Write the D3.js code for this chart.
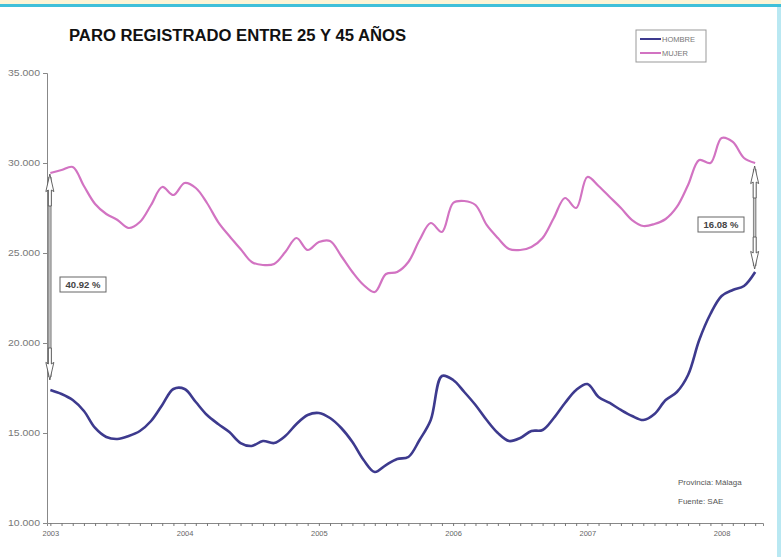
<!DOCTYPE html>
<html lang="es">
  <head>
    <meta charset="UTF-8" />
    <title>Paro registrado entre 25 y 45 años</title>
    <style>
      body { margin: 0; background: #fff; }
      #viz { width: 781px; height: 557px; }
      text { font-family: "Liberation Sans", Arial, sans-serif; }
    </style>
  </head>
  <body>
    <div id="viz"></div>
    <script src="https://cdnjs.cloudflare.com/ajax/libs/d3/7.8.5/d3.min.js"></script>
    <script>
      // monthly values, Jan 2003 .. Apr 2008
      const years = ["2003", "2004", "2005", "2006", "2007", "2008"];
      const yTicks = [10000, 15000, 20000, 25000, 30000, 35000];

      const hombre = [
        17389, 17167, 16833, 16222, 15278, 14778, 14667, 14833, 15111, 15667, 16556, 17444,
        17444, 16722, 16000, 15500, 15056, 14444, 14278, 14556, 14444, 14833, 15500, 16000,
        16111, 15833, 15278, 14500, 13500, 12833, 13222, 13556, 13667, 14611, 15722, 18167,
        17944, 17278, 16556, 15722, 15000, 14556, 14722, 15111, 15167, 15833, 16667, 17389,
        17722, 17000, 16667, 16278, 15944, 15722, 16056, 16833, 17278, 18222, 20167, 21611,
        22611, 22944, 23167, 23944
      ];
      const mujer = [
        29444, 29611, 29778, 28722, 27722, 27167, 26833, 26389, 26722, 27667, 28667, 28222,
        28889, 28611, 27778, 26722, 25944, 25222, 24500, 24333, 24389, 25056, 25833, 25167,
        25611, 25667, 24833, 23944, 23222, 22833, 23833, 23944, 24500, 25722, 26667, 26167,
        27778, 27889, 27667, 26556, 25833, 25222, 25167, 25333, 25833, 26944, 28056, 27500,
        29222, 28722, 28111, 27500, 26833, 26500, 26611, 26889, 27556, 28778, 30167, 30000,
        31389, 31167, 30278, 30000
      ];
      const seriesNames = ["HOMBRE", "MUJER"];
      const gapLabels = ["40.92 %", "16.08 %"];

      const width = 781, height = 557;
      const blue = "#3d3a8e", pink = "#d273c2";

      const svg = d3.select("#viz").append("svg")
        .attr("width", width)
        .attr("height", height);

      // frame bits
      svg.append("rect").attr("x", 0).attr("y", 0).attr("width", width).attr("height", 4).attr("fill", "#fbf4d6");
      svg.append("rect").attr("x", 0).attr("y", 4).attr("width", width).attr("height", 3).attr("fill", "#3fc0da");
      svg.append("rect").attr("x", 777).attr("y", 7).attr("width", 4).attr("height", height - 7).attr("fill", "#b9e8f2");

      const x = d3.scaleLinear().domain([-0.3, 63.7]).range([47, 763]);
      const y = d3.scaleLinear().domain([10000, 35000]).range([523, 73]);

      const es = d3.formatLocale({ decimal: ",", thousands: ".", grouping: [3], currency: ["", " €"] });

      // title
      svg.append("text")
        .attr("x", 69).attr("y", 41)
        .attr("font-size", 16).attr("font-weight", "bold")
        .attr("fill", "#111")
        .attr("textLength", 337).attr("lengthAdjust", "spacingAndGlyphs")
        .text("PARO REGISTRADO ENTRE 25 Y 45 AÑOS");

      // y axis
      const yAxis = svg.append("g")
        .attr("transform", "translate(47,0)")
        .call(d3.axisLeft(y).tickValues(yTicks).tickSize(4).tickFormat(es.format(",")));
      yAxis.select(".domain").attr("stroke", "#888");
      yAxis.selectAll(".tick line").attr("stroke", "#888");
      yAxis.selectAll("text")
        .attr("font-size", 8.5).attr("fill", "#777")
        .attr("x", -7)
        .attr("textLength", 32).attr("lengthAdjust", "spacingAndGlyphs");

      // x axis with monthly ticks
      const xAxis = svg.append("g")
        .attr("transform", "translate(0,523)")
        .call(d3.axisBottom(x).tickValues(d3.range(0, 64)).tickSize(3).tickFormat(d => d % 12 === 0 ? years[d / 12] : ""));
      xAxis.select(".domain").attr("stroke", "#888");
      xAxis.selectAll(".tick line").attr("stroke", "#777");
      xAxis.selectAll("text")
        .attr("font-size", 7.5).attr("fill", "#666").attr("dy", "0.9em");

      // lines
      const line = d3.line()
        .x((d, i) => x(i))
        .y(d => y(d))
        .curve(d3.curveCatmullRom.alpha(0.5));

      svg.append("path").datum(mujer)
        .attr("d", line).attr("fill", "none")
        .attr("stroke", pink).attr("stroke-width", 2.2);
      svg.append("path").datum(hombre)
        .attr("d", line).attr("fill", "none")
        .attr("stroke", blue).attr("stroke-width", 2.6);

      // double arrows between the two series
      function gapArrow(i, dx, padTop, padBot) {
        const cx = x(i) + dx;
        const top = y(mujer[i]) + padTop, bot = y(hombre[i]) - padBot;
        const g = svg.append("g");
        g.append("line")
          .attr("x1", cx).attr("x2", cx)
          .attr("y1", top + 3).attr("y2", bot - 3)
          .attr("stroke", "#8a8a8a").attr("stroke-width", 3.5);
        g.append("line")
          .attr("x1", cx).attr("x2", cx)
          .attr("y1", top + 3).attr("y2", bot - 3)
          .attr("stroke", "#d8d8d8").attr("stroke-width", 1);
        const head = 32;
        [[top, 1], [bot, -1]].forEach(([yy, s]) => {
          g.append("path")
            .attr("d", `M${cx},${yy} L${cx + 4},${yy + s * head * 0.55} L${cx + 1.5},${yy + s * head * 0.5} L${cx + 1.5},${yy + s * head} L${cx - 1.5},${yy + s * head} L${cx - 1.5},${yy + s * head * 0.5} L${cx - 4},${yy + s * head * 0.55} Z`)
            .attr("fill", "#fff").attr("stroke", "#555").attr("stroke-width", 0.9);
        });
      }
      gapArrow(0, -0.5, 1, 10);
      gapArrow(63, -0.5, 3, 3);

      function gapLabel(tx, ty, w, txt) {
        svg.append("rect")
          .attr("x", tx).attr("y", ty).attr("width", w).attr("height", 15)
          .attr("fill", "#fff").attr("stroke", "#666").attr("stroke-width", 1);
        svg.append("text")
          .attr("x", tx + w / 2).attr("y", ty + 11)
          .attr("text-anchor", "middle")
          .attr("font-size", 9.5).attr("font-weight", "bold").attr("fill", "#444")
          .text(txt);
      }
      gapLabel(60, 277, 46, gapLabels[0]);
      gapLabel(698, 217, 46, gapLabels[1]);

      // legend
      const lg = svg.append("g").attr("transform", "translate(636,30)");
      lg.append("rect").attr("width", 70).attr("height", 32)
        .attr("fill", "#fff").attr("stroke", "#999").attr("stroke-width", 1);
      [blue, pink].forEach((c, k) => {
        lg.append("line")
          .attr("x1", 4).attr("x2", 25)
          .attr("y1", 9 + k * 14).attr("y2", 9 + k * 14)
          .attr("stroke", c).attr("stroke-width", 2);
        lg.append("text")
          .attr("x", 26).attr("y", 12 + k * 14)
          .attr("font-size", 7.5).attr("fill", "#777")
          .text(seriesNames[k]);
      });

      // source notes
      svg.append("text").attr("x", 678).attr("y", 485)
        .attr("font-size", 8).attr("fill", "#555").text("Provincia: Málaga");
      svg.append("text").attr("x", 678).attr("y", 504)
        .attr("font-size", 8).attr("fill", "#555").text("Fuente: SAE");
    </script>
  </body>
</html>
